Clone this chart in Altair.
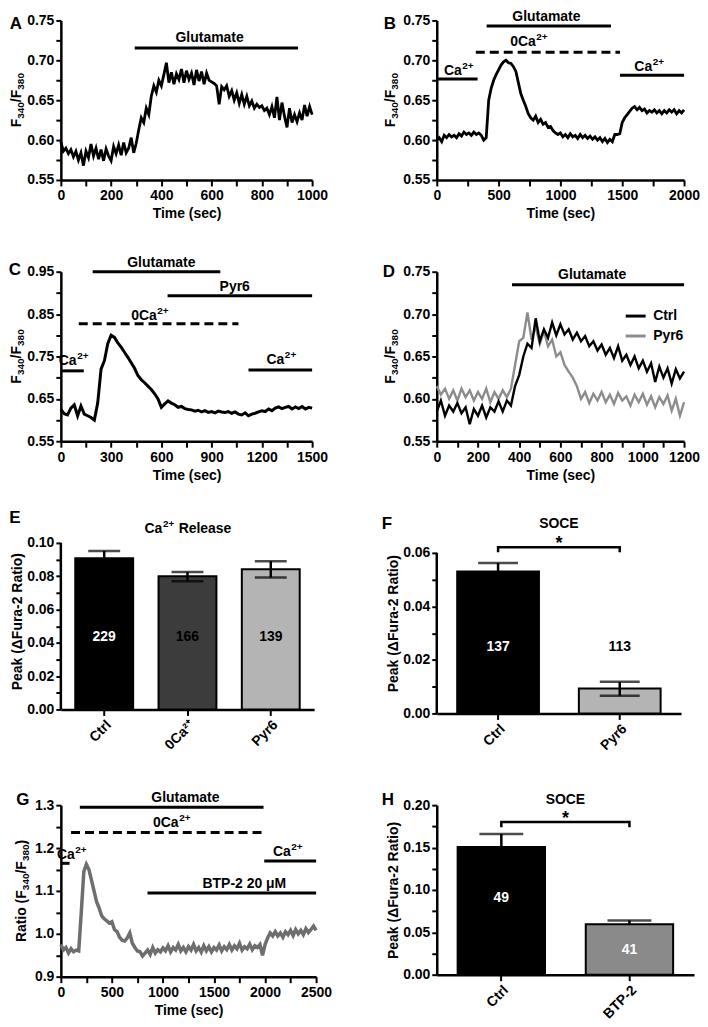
import altair as alt
import pandas as pd

FONT = "Liberation Sans"
PEAK_TITLE = "Peak (ΔFura-2 Ratio)"

# ================= Panel A =================
A_TIME = list(range(0, 1001, 10))
A_RATIO = [
    0.598, 0.586, 0.590, 0.583, 0.588, 0.579, 0.586, 0.575, 0.584, 0.568,
    0.586, 0.578, 0.595, 0.580, 0.590, 0.576, 0.588, 0.574, 0.589, 0.580,
    0.574, 0.592, 0.583, 0.594, 0.581, 0.597, 0.584, 0.590, 0.603, 0.584,
    0.596, 0.613, 0.628, 0.622, 0.640, 0.632, 0.655, 0.668, 0.660, 0.675,
    0.668, 0.682, 0.697, 0.672, 0.685, 0.670, 0.683, 0.676, 0.689, 0.672,
    0.687, 0.676, 0.684, 0.669, 0.688, 0.674, 0.686, 0.670, 0.684, 0.675,
    0.673, 0.671, 0.668, 0.645, 0.667, 0.663, 0.668, 0.655, 0.662, 0.650,
    0.659, 0.646, 0.657, 0.645, 0.655, 0.643, 0.649, 0.640, 0.645, 0.641,
    0.643, 0.637, 0.640, 0.632, 0.642, 0.628, 0.654, 0.625, 0.647, 0.630,
    0.616, 0.640, 0.622, 0.632, 0.623, 0.634, 0.625, 0.644, 0.630, 0.642,
    0.632,
]
A_BAR_START = [294]
A_BAR_END = [944]
A_BAR_LEVEL = [0.7155]
A_BAR_DASHED = [False]
A_NOTE = ["Glutamate"]
A_NOTE_TIME = [592]
A_NOTE_LEVEL = [0.7274]
A_XTICKS = [0, 100, 200, 300, 400, 500, 600, 700, 800, 900, 1000]
A_YTICKS = [0.55, 0.575, 0.6, 0.625, 0.65, 0.675, 0.7, 0.725, 0.75]

# ================= Panel B =================
B_TIME = list(range(0, 2001, 20))
B_RATIO = [
    0.600, 0.603, 0.598, 0.606, 0.603, 0.607, 0.604, 0.606, 0.603, 0.608,
    0.605, 0.610, 0.607, 0.609, 0.606, 0.610, 0.607, 0.609, 0.606, 0.600,
    0.603, 0.650, 0.665, 0.675, 0.682, 0.688, 0.694, 0.698, 0.700, 0.697,
    0.696, 0.692, 0.686, 0.672, 0.658, 0.650, 0.642, 0.633, 0.628, 0.625,
    0.630, 0.622, 0.626, 0.620, 0.622, 0.616, 0.617, 0.612, 0.609, 0.607,
    0.609, 0.604, 0.607, 0.603, 0.608, 0.604, 0.606, 0.602, 0.607, 0.603,
    0.606, 0.602, 0.605, 0.601, 0.604, 0.600, 0.603, 0.598, 0.602, 0.597,
    0.601, 0.598, 0.607, 0.607, 0.608, 0.622, 0.628, 0.632, 0.636, 0.640,
    0.642, 0.638, 0.641, 0.637, 0.639, 0.634, 0.637, 0.635, 0.638, 0.634,
    0.637, 0.633, 0.637, 0.634, 0.638, 0.635, 0.638, 0.633, 0.637, 0.634,
    0.638,
]
B_BAR_START = [403, 316, 0, 1482]
B_BAR_END = [1409, 1482, 330, 2000]
B_BAR_LEVEL = [0.7429, 0.710, 0.6766, 0.6813]
B_BAR_DASHED = [False, True, False, False]
B_NOTE = ["Glutamate", "0Ca^2+", "Ca^2+", "Ca^2+"]
B_NOTE_TIME = [887, 743, 176, 1716]
B_NOTE_LEVEL = [0.754, 0.7225, 0.687, 0.692]
B_XTICKS = [0, 250, 500, 750, 1000, 1250, 1500, 1750, 2000]

# ================= Panel C =================
C_TIME = list(range(0, 1501, 20))
C_RATIO = [
    0.625, 0.615, 0.612, 0.628, 0.636, 0.610, 0.633, 0.614, 0.610, 0.606,
    0.600, 0.640, 0.720, 0.740, 0.780, 0.800, 0.795, 0.782, 0.772, 0.760,
    0.748, 0.735, 0.722, 0.705, 0.695, 0.688, 0.680, 0.672, 0.662, 0.650,
    0.630, 0.638, 0.645, 0.640, 0.636, 0.630, 0.632, 0.627, 0.625, 0.624,
    0.621, 0.623, 0.619, 0.622, 0.618, 0.620, 0.617, 0.621, 0.619, 0.618,
    0.620, 0.616, 0.619, 0.614, 0.612, 0.617, 0.610, 0.614, 0.616, 0.619,
    0.622, 0.620, 0.626, 0.622, 0.628, 0.631, 0.627, 0.630, 0.632, 0.626,
    0.631, 0.627, 0.632, 0.626, 0.630,
    0.628,
]
C_BAR_START = [190, 637, 107, 0, 1120]
C_BAR_END = [952, 1500, 1060, 137, 1500]
C_BAR_LEVEL = [0.95, 0.893, 0.827, 0.716, 0.718]
C_BAR_DASHED = [False, False, True, False, False]
C_NOTE = ["Glutamate", "Pyr6", "0Ca^2+", "Ca^2+", "Ca^2+"]
C_NOTE_TIME = [600, 1038, 530, 75, 1315]
C_NOTE_LEVEL = [0.9697, 0.915, 0.846, 0.740, 0.742]
C_XTICKS = [0, 150, 300, 450, 600, 750, 900, 1050, 1200, 1350, 1500]
C_YTICKS = [0.55, 0.6, 0.65, 0.7, 0.75, 0.8, 0.85, 0.9, 0.95]

# ================= Panel D =================
D_TIME = list(range(0, 1201, 20))
D_CTRL = [
    0.585, 0.598, 0.580, 0.592, 0.585, 0.595, 0.583, 0.590, 0.570, 0.588,
    0.580, 0.592, 0.578, 0.590, 0.585, 0.597, 0.585, 0.598, 0.592, 0.615,
    0.628, 0.650, 0.665, 0.660, 0.695, 0.668, 0.682, 0.672, 0.690, 0.675,
    0.688, 0.676, 0.682, 0.670, 0.678, 0.668, 0.674, 0.662, 0.668, 0.657,
    0.664, 0.652, 0.660, 0.648, 0.662, 0.645, 0.652, 0.640, 0.650, 0.636,
    0.645, 0.632, 0.642, 0.620, 0.638, 0.625, 0.636, 0.618, 0.635, 0.624,
    0.632,
]
D_PYR6 = [
    0.615, 0.605, 0.612, 0.600, 0.610, 0.598, 0.612, 0.602, 0.610, 0.598,
    0.608, 0.600, 0.612, 0.596, 0.608, 0.600, 0.610, 0.602, 0.612, 0.640,
    0.668, 0.672, 0.702, 0.670, 0.685, 0.665, 0.680, 0.662, 0.670, 0.650,
    0.655, 0.640, 0.632, 0.625, 0.615, 0.600, 0.608, 0.595, 0.606, 0.598,
    0.608, 0.596, 0.605, 0.594, 0.607, 0.598, 0.603, 0.592, 0.605, 0.596,
    0.606, 0.593, 0.603, 0.590, 0.602, 0.594, 0.604, 0.586, 0.600, 0.580,
    0.596,
]
D_SERIES = ["Ctrl", "Pyr6"]
D_BAR_START = [365]
D_BAR_END = [1200]
D_BAR_LEVEL = [0.7347]
D_BAR_DASHED = [False]
D_NOTE = ["Glutamate"]
D_NOTE_TIME = [754]
D_NOTE_LEVEL = [0.7465]
D_XTICKS = [0, 100, 200, 300, 400, 500, 600, 700, 800, 900, 1000, 1100, 1200]

# ================= Panel E =================
E_CATS = ["Ctrl", "0Ca²⁺", "Pyr6"]
E_MEAN = [0.0908, 0.0800, 0.0842]
E_ERR_LO = [0.0864, 0.0770, 0.0792]
E_ERR_HI = [0.0952, 0.0826, 0.0890]
E_N = ["229", "166", "139"]
E_N_LEVEL = [0.0432, 0.0432, 0.0432]
E_YTICKS = [0, 0.01, 0.02, 0.03, 0.04, 0.05, 0.06, 0.07, 0.08, 0.09, 0.1]

# ================= Panel F =================
F_CATS = ["Ctrl", "Pyr6"]
F_MEAN = [0.0530, 0.0093]
F_ERR_LO = [0.0498, 0.0066]
F_ERR_HI = [0.0562, 0.0118]
F_N = ["137", "113"]
F_N_LEVEL = [0.0248, 0.0248]
F_BRACKET = [0.0602, 0.0621]
F_YTICKS = [0, 0.01, 0.02, 0.03, 0.04, 0.05, 0.06]

# ================= Panel G =================
G_TIME = list(range(0, 2501, 25))
G_RATIO = [
    0.975, 0.962, 0.968, 0.955, 0.965, 0.958, 0.962, 0.960, 1.050, 1.145,
    1.162, 1.150, 1.125, 1.100, 1.075, 1.060, 1.042, 1.035, 1.030, 1.025,
    1.028, 1.010, 1.005, 0.992, 0.985, 0.983, 0.990, 1.002, 0.978, 0.968,
    0.960, 0.958, 0.948, 0.955, 0.962, 0.952, 0.968, 0.955, 0.963, 0.958,
    0.967, 0.960, 0.972, 0.958, 0.968, 0.962, 0.975, 0.960, 0.968, 0.958,
    0.970, 0.962, 0.975, 0.960, 0.968, 0.957, 0.972, 0.960, 0.970, 0.958,
    0.968, 0.962, 0.974, 0.960, 0.970, 0.963, 0.975, 0.962, 0.972, 0.965,
    0.978, 0.962, 0.970, 0.965, 0.976, 0.963, 0.972, 0.968, 0.975, 0.950,
    0.975, 0.990, 1.002, 0.995, 1.005, 0.995, 1.002, 0.992, 1.005, 0.998,
    1.008, 0.996, 1.010, 1.000, 1.008, 0.998, 1.012, 1.003, 1.010, 1.018,
    1.008,
]
G_BAR_START = [186, 100, 0, 1992, 849]
G_BAR_END = [1985, 1985, 85, 2500, 2500]
G_BAR_LEVEL = [1.295, 1.2365, 1.1644, 1.170, 1.095]
G_BAR_DASHED = [False, True, False, False, False]
G_NOTE = ["Glutamate", "0Ca^2+", "Ca^2+", "Ca^2+", "BTP-2 20 μM"]
G_NOTE_TIME = [1220, 1084, 105, 2220, 1797]
G_NOTE_LEVEL = [1.316, 1.258, 1.184, 1.19, 1.116]
G_XTICKS = [0, 250, 500, 750, 1000, 1250, 1500, 1750, 2000, 2250, 2500]
G_YTICKS = [0.9, 0.95, 1.0, 1.05, 1.1, 1.15, 1.2, 1.25, 1.3]

# ================= Panel H =================
H_CATS = ["Ctrl", "BTP-2"]
H_MEAN = [0.1505, 0.0595]
H_ERR_LO = [0.1505, 0.0595]
H_ERR_HI = [0.1660, 0.0640]
H_N = ["49", "41"]
H_N_LEVEL = [0.091, 0.0288]
H_BRACKET = [0.174, 0.180]
H_YTICKS = [0, 0.025, 0.05, 0.075, 0.1, 0.125, 0.15, 0.175, 0.2]

# ---------------- styles ----------------
E_FILLS = ["#000000", "#3c3c3c", "#b4b4b4"]
E_TEXT = ["#ffffff", "#000000", "#000000"]
F_FILLS = ["#000000", "#b4b4b4"]
F_TEXT = ["#ffffff", "#000000"]
H_FILLS = ["#000000", "#8a8a8a"]
H_TEXT = ["#ffffff", "#ffffff"]

# y-axis title pieces for the fura ratio: (text, font size, baseline shift, advance)
RATIO_PIECES = [("F", 14, 0, 8.6), ("340", 10, 3, 16.7), ("/F", 14, 0, 12.5), ("380", 10, 3, 16.7)]
G_TITLE_PIECES = [("Ratio (F", 14, 0, 52.1), ("340", 10, 3, 16.7), ("/F", 14, 0, 12.5),
                  ("380", 10, 3, 16.7), (")", 14, 0, 4.7)]

# approximate advance widths (em) of Liberation Sans Bold, used to place superscripts
CHAR_W = {"C": 0.722, "a": 0.556, "0": 0.556, "2": 0.556, "+": 0.584, " ": 0.278,
          "R": 0.722, "e": 0.556, "l": 0.278, "s": 0.556}


def text_width(s, size):
    return sum(CHAR_W.get(c, 0.556) for c in s) * size


def text_layer(label, lx, ly, size, angle=0, align="center", baseline="middle"):
    return alt.Chart(pd.DataFrame({"L": [label]})).mark_text(
        font=FONT, fontSize=size, fontWeight="bold", color="black",
        align=align, baseline=baseline, angle=angle
    ).encode(text="L:N", x=alt.value(lx), y=alt.value(ly))


def rotated_title(pieces, bx, cy):
    total = sum(p[3] for p in pieces)
    y = cy + total / 2
    out = []
    for txt, size, shift, adv in pieces:
        out.append(text_layer(txt, bx + shift, y, size, angle=270, align="left", baseline="alphabetic"))
        y -= adv
    return out


def note_layers(note, note_time, note_level):
    out = []
    for label, t, r in zip(note, note_time, note_level):
        d = pd.DataFrame({"t": [t], "r": [r]})
        if "^" in label:
            main, sup = label.split("^")
            wm, ws = text_width(main, 14), text_width(sup, 10)
            start = -(wm + ws) / 2
            out.append(alt.Chart(d).mark_text(
                font=FONT, fontSize=14, fontWeight="bold", color="black", align="left",
                baseline="middle", dx=start, text=main).encode(x=alt.X("t:Q"), y=alt.Y("r:Q")))
            out.append(alt.Chart(d).mark_text(
                font=FONT, fontSize=10, fontWeight="bold", color="black", align="left",
                baseline="middle", dx=start + wm + 0.5, dy=-5, text=sup).encode(x=alt.X("t:Q"), y=alt.Y("r:Q")))
        else:
            out.append(alt.Chart(d).mark_text(
                font=FONT, fontSize=14, fontWeight="bold", color="black",
                baseline="middle", text=label).encode(x=alt.X("t:Q"), y=alt.Y("r:Q")))
    return out


def trace_panel(traces, xdom, ydom, xticks, xmod, yticks, yexpr, title_pieces, title_x,
                bar_start, bar_end, bar_level, bar_dashed,
                note, note_time, note_level, letter, lx, ly, w, h):
    X = alt.X("t:Q", scale=alt.Scale(domain=xdom, nice=False, zero=False),
              axis=alt.Axis(values=xticks, tickCount=len(xticks), title="Time (sec)", labelOverlap=False,
                            labelExpr=f"datum.value % {xmod} === 0 ? format(datum.value, 'd') : ''"))
    Y = alt.Y("r:Q", scale=alt.Scale(domain=ydom, nice=False, zero=False),
              axis=alt.Axis(values=yticks, tickCount=len(yticks), title=None, labelExpr=yexpr,
                            labelOverlap=False))
    layers = []
    for df, col, sw, color_enc in traces:
        if color_enc is None:
            layers.append(alt.Chart(df).mark_line(color=col, strokeWidth=sw).encode(x=X, y=Y))
        else:
            layers.append(alt.Chart(df).mark_line(strokeWidth=sw).encode(x=X, y=Y, color=color_enc))
    bdf = pd.DataFrame({"t": bar_start, "t2": bar_end, "r": bar_level, "d": bar_dashed})
    solid = bdf[~bdf["d"]].drop(columns="d")
    dashed = bdf[bdf["d"]].drop(columns="d")
    layers.append(alt.Chart(solid).mark_rule(color="black", strokeWidth=3).encode(
        x=alt.X("t:Q"), x2="t2", y=alt.Y("r:Q")))
    if len(dashed):
        layers.append(alt.Chart(dashed).mark_rule(color="black", strokeWidth=3, strokeDash=[9, 5]).encode(
            x=alt.X("t:Q"), x2="t2", y=alt.Y("r:Q")))
    layers.extend(note_layers(note, note_time, note_level))
    layers.extend(rotated_title(title_pieces, title_x, h / 2))
    layers.append(text_layer(letter, lx, ly, 17))
    return alt.layer(*layers).properties(width=w, height=h)


def title_layers(title, cx, ty):
    if "^" not in title:
        return [text_layer(title, cx, ty, 14)]
    main, rest = title.split("^")
    sup, tail = rest.split(" ", 1)
    wm, ws = text_width(main, 14), text_width(sup, 10)
    gap = text_width(" ", 14)
    wt = text_width(tail, 14)
    x0 = cx - (wm + ws + gap + wt) / 2
    return [text_layer(main, x0, ty, 14, align="left"),
            text_layer(sup, x0 + wm + 0.5, ty - 5, 10, align="left"),
            text_layer(tail, x0 + wm + ws + gap + 1, ty, 14, align="left")]


def bar_panel(cats, means, lo, hi, nlab, nlev, fills, tcols, ymax, yticks, ymod,
              title, ty, letter, lx, ly, w, h, pin, pout, cap, lower_caps,
              bracket=None, axis_top=None):
    df = pd.DataFrame({"cat": cats, "mean": means, "lo": lo, "hi": hi,
                       "n": nlab, "ny": nlev, "fill": fills, "tcol": tcols})
    X = alt.X("cat:N", sort=cats, scale=alt.Scale(paddingInner=pin, paddingOuter=pout),
              axis=alt.Axis(title=None, labelAngle=-45, labelPadding=2))
    Xs = alt.X("cat:N", sort=cats)
    Y = alt.Y("mean:Q", scale=alt.Scale(domain=[0, ymax], nice=False, zero=True),
              axis=alt.Axis(values=yticks, tickCount=len(yticks), title=PEAK_TITLE,
                            domain=axis_top is None, labelOverlap=False,
                            labelExpr=f"round(datum.value * 1000) % {ymod} === 0 ? format(datum.value, '.2f') : ''"))
    base = alt.Chart(df)
    layers = [base.mark_bar(stroke="black", strokeWidth=2).encode(
        x=X, y=Y, color=alt.Color("fill:N", scale=None))]
    layers.append(base.mark_rule(color="black", strokeWidth=2.5).encode(x=Xs, y="lo:Q", y2="hi"))
    layers.append(base.mark_tick(color="black", thickness=2.5, size=cap).encode(x=Xs, y="hi:Q"))
    if lower_caps:
        layers.append(base.mark_tick(color="black", thickness=2.5, size=cap).encode(x=Xs, y="lo:Q"))
    layers.append(base.mark_text(font=FONT, fontSize=14, fontWeight="bold").encode(
        x=Xs, y="ny:Q", text="n:N", color=alt.Color("tcol:N", scale=None)))
    if axis_top is not None:
        layers.append(alt.Chart(pd.DataFrame({"z": [0]})).mark_rule(color="black", strokeWidth=2.5).encode(
            x=alt.value(0), y=alt.Y(datum=0), y2=alt.Y2(datum=axis_top)))
    if bracket is not None:
        bdf = pd.DataFrame({"cat": [cats[0], cats[0], cats[-1], cats[-1]],
                            "y": [bracket[0], bracket[1], bracket[1], bracket[0]],
                            "i": [0, 1, 2, 3]})
        layers.append(alt.Chart(bdf).mark_line(color="black", strokeWidth=2.5).encode(
            x=Xs, y="y:Q", order="i:Q"))
        layers.append(alt.Chart(pd.DataFrame({"s": ["*"], "y": [bracket[1]]})).mark_text(
            font=FONT, fontSize=18, fontWeight="bold", baseline="alphabetic", dy=2, color="black"
        ).encode(x=alt.value(w / 2), y="y:Q", text="s:N"))
    layers.extend(title_layers(title, w / 2, ty))
    layers.append(text_layer(letter, lx, ly, 17))
    return alt.layer(*layers).properties(width=w, height=h)


Y_025 = "round(datum.value * 1000) % 50 === 0 ? format(datum.value, '.2f') : ''"
Y_C = "round(datum.value * 1000) % 100 === 50 ? format(datum.value, '.2f') : ''"
Y_G = "round(datum.value * 1000) % 100 === 0 ? format(datum.value, '.1f') : ''"

dfA = pd.DataFrame({"t": A_TIME, "r": A_RATIO})
dfB = pd.DataFrame({"t": B_TIME, "r": B_RATIO})
dfC = pd.DataFrame({"t": C_TIME, "r": C_RATIO})
dfD = pd.concat([
    pd.DataFrame({"t": D_TIME, "r": D_PYR6, "series": "Pyr6"}),
    pd.DataFrame({"t": D_TIME, "r": D_CTRL, "series": "Ctrl"}),
])
dfG = pd.DataFrame({"t": G_TIME, "r": G_RATIO})

d_color = alt.Color("series:N", scale=alt.Scale(domain=D_SERIES, range=["#000000", "#8c8c8c"]),
                    legend=alt.Legend(orient="none", legendX=188, legendY=33, title=None,
                                      symbolType="stroke", symbolStrokeWidth=3, symbolSize=400,
                                      labelFont=FONT, labelFontSize=14, labelFontWeight="bold",
                                      labelColor="black", rowPadding=1, labelOffset=6))

# panel sizes (plot areas); E and F carry a little empty room above their top tick
E_H, E_EXTRA = 177, 10
F_H, F_EXTRA = 181, 20

pA = trace_panel([(dfA, "black", 2.8, None)], [0, 1000], [0.55, 0.75], A_XTICKS, 200, A_YTICKS, Y_025,
                 RATIO_PIECES, -40, A_BAR_START, A_BAR_END, A_BAR_LEVEL, A_BAR_DASHED,
                 A_NOTE, A_NOTE_TIME, A_NOTE_LEVEL, "A", -45, 4, 252, 160)
pB = trace_panel([(dfB, "black", 2.8, None)], [0, 2000], [0.55, 0.75], B_XTICKS, 500, A_YTICKS, Y_025,
                 RATIO_PIECES, -42, B_BAR_START, B_BAR_END, B_BAR_LEVEL, B_BAR_DASHED,
                 B_NOTE, B_NOTE_TIME, B_NOTE_LEVEL, "B", -47, 4, 248, 160)
pC = trace_panel([(dfC, "black", 3, None)], [0, 1500], [0.55, 0.95], C_XTICKS, 300, C_YTICKS, Y_C,
                 RATIO_PIECES, -40, C_BAR_START, C_BAR_END, C_BAR_LEVEL, C_BAR_DASHED,
                 C_NOTE, C_NOTE_TIME, C_NOTE_LEVEL, "C", -46, -2, 252, 170)
pD = trace_panel([(dfD[dfD.series == "Pyr6"], None, 2.4, d_color),
                  (dfD[dfD.series == "Ctrl"], None, 2.4, d_color)],
                 [0, 1200], [0.55, 0.75], D_XTICKS, 200, A_YTICKS, Y_025,
                 RATIO_PIECES, -42, D_BAR_START, D_BAR_END, D_BAR_LEVEL, D_BAR_DASHED,
                 D_NOTE, D_NOTE_TIME, D_NOTE_LEVEL, "D", -48, 0, 248, 170)
pE = bar_panel(E_CATS, E_MEAN, E_ERR_LO, E_ERR_HI, E_N, E_N_LEVEL, E_FILLS, E_TEXT,
               0.1 * E_H / (E_H - E_EXTRA), E_YTICKS, 20,
               "Ca^2+ Release", -4, "E", -46, -15, 254, E_H, 0.305, 0.173, 32, True,
               axis_top=0.1)
pF = bar_panel(F_CATS, F_MEAN, F_ERR_LO, F_ERR_HI, F_N, F_N_LEVEL, F_FILLS, F_TEXT,
               0.06 * F_H / (F_H - F_EXTRA), F_YTICKS, 20,
               "SOCE", -9, "F", -50, -9, 245, F_H, 0.328, 0.168, 40, True,
               bracket=F_BRACKET, axis_top=0.06)
pG = trace_panel([(dfG, "#6e6e6e", 3.5, None)], [0, 2500], [0.9, 1.3], G_XTICKS, 500, G_YTICKS, Y_G,
                 G_TITLE_PIECES, -35, G_BAR_START, G_BAR_END, G_BAR_LEVEL, G_BAR_DASHED,
                 G_NOTE, G_NOTE_TIME, G_NOTE_LEVEL, "G", -38, -5, 256, 172)
pH = bar_panel(H_CATS, H_MEAN, H_ERR_LO, H_ERR_HI, H_N, H_N_LEVEL, H_FILLS, H_TEXT, 0.2, H_YTICKS, 50,
               "SOCE", -5, "H", -49, -5, 258, 170, 0.318, 0.163, 44, False,
               bracket=H_BRACKET)

chart = alt.concat(
    pA, pB, pC, pD, pE, pF, pG, pH,
    columns=2,
    spacing=alt.RowColnumber(row=92, column=121),
    bounds="flush",
).resolve_scale(color="independent").properties(padding=0).configure_view(
    stroke=None
).configure_axis(
    domainColor="black", domainWidth=2.5, tickColor="black", tickWidth=2,
    labelFont=FONT, labelFontSize=14, labelFontWeight="bold", labelColor="black",
    titleFont=FONT, titleFontSize=14, titleFontWeight="bold", titleColor="black",
    grid=False, labelFlush=False, labelOverlap=False,
).configure_axisX(
    tickSize=6, labelPadding=3, titlePadding=4
).configure_axisY(
    tickSize=5, labelPadding=2, titlePadding=2
)

chart.save("out.html", embed_options={"renderer": "svg", "actions": False})
